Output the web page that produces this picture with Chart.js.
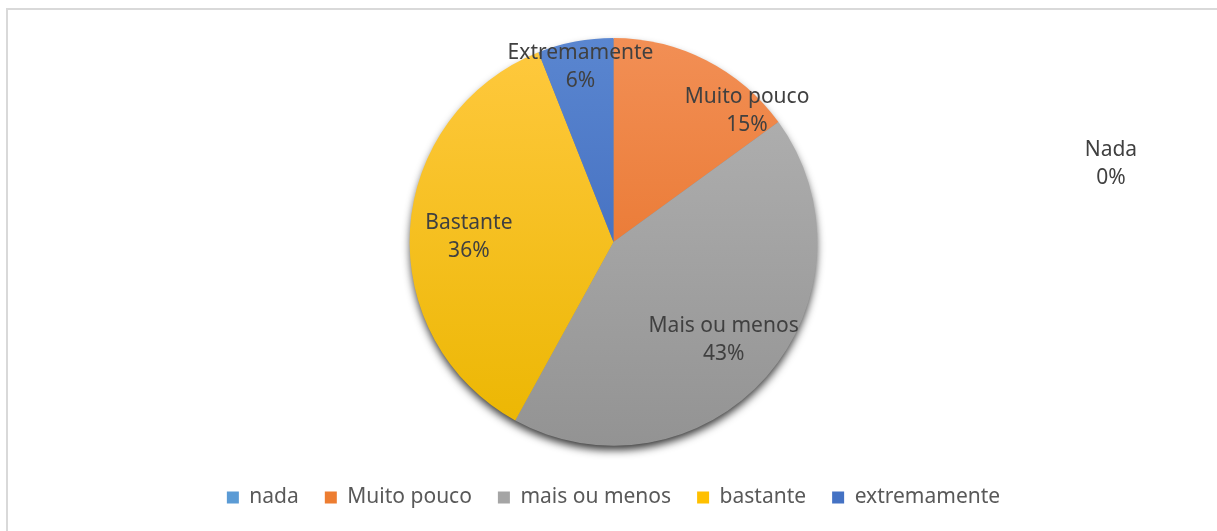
<!DOCTYPE html>
<html>
<head>
<meta charset="utf-8">
<script src="https://cdn.jsdelivr.net/npm/chart.js@4"></script>
<style>
  html, body { margin: 0; padding: 0; background: #fff; overflow: hidden; }
  #frame {
    position: absolute; left: 6px; top: 8px; width: 1220px; height: 540px;
    border-top: 2px solid #d9d9d9; border-left: 2px solid #d9d9d9;
  }
  #wrap { position: absolute; left: 0; top: 0; width: 1217px; height: 531px; }
</style>
</head>
<body>
<div id="frame"></div>
<div id="wrap"><canvas id="pieChart"></canvas></div>
<script>
const categories = ['nada', 'Muito pouco', 'mais ou menos', 'bastante', 'extremamente'];
const sliceNames = ['Nada', 'Muito pouco', 'Mais ou menos', 'Bastante', 'Extremamente'];
const values = [0, 15, 43, 36, 6];

const baseColors = ['#5b9bd5', '#ed7d31', '#a5a5a5', '#ffc000', '#4472c4'];
const lightColors = ['#7db1e0', '#f28f55', '#b4b4b4', '#ffc93f', '#5a86d0'];
const darkColors = ['#4a89c4', '#e46a1c', '#939393', '#ebb600', '#3560b6'];

// label placement: angle shift (deg) from the slice middle and distance as a fraction of the radius
const labelPlacement = [
    { angle: null, at: 81, r: 2.47 },
    { angle: 18.4, r: 0.92 },
    { angle: 0, r: 0.72 },
    { angle: -1.2, r: 0.71 },
    { angle: 0.2, r: 0.88 }
];

const fontFamily = '"Noto Sans", "Open Sans", sans-serif';

const sliceFill = (ctx) => {
    const chart = ctx.chart;
    const area = chart.chartArea;
    if (!area) return baseColors[ctx.dataIndex];
    const g = chart.ctx.createLinearGradient(0, area.top, 0, area.bottom);
    g.addColorStop(0, lightColors[ctx.dataIndex]);
    g.addColorStop(1, darkColors[ctx.dataIndex]);
    return g;
};

const pieShadow = {
    id: 'pieShadow',
    beforeDatasetsDraw(chart) {
        const arc = chart.getDatasetMeta(0).data[0];
        if (!arc) return;
        const c = chart.ctx;
        c.save();
        c.shadowColor = 'rgba(0,0,0,0.8)';
        c.shadowBlur = 9;
        c.shadowOffsetY = 5;
        c.fillStyle = '#888';
        c.beginPath();
        c.arc(arc.x, arc.y, arc.outerRadius - 1, 0, Math.PI * 2);
        c.fill();
        c.restore();
    }
};

const sliceLabels = {
    id: 'sliceLabels',
    afterDatasetsDraw(chart) {
        const c = chart.ctx;
        const meta = chart.getDatasetMeta(0);
        const total = values.reduce((a, b) => a + b, 0);
        c.save();
        c.font = '21px ' + fontFamily;
        c.fillStyle = '#404040';
        c.textAlign = 'center';
        c.textBaseline = 'middle';
        meta.data.forEach((arc, i) => {
            const p = labelPlacement[i];
            let a;
            if (p.angle === null) {
                a = -Math.PI / 2 + p.at * Math.PI / 180;
            } else {
                a = (arc.startAngle + arc.endAngle) / 2 + p.angle * Math.PI / 180;
            }
            const r = arc.outerRadius * p.r;
            const x = arc.x + Math.cos(a) * r;
            const y = arc.y + Math.sin(a) * r + 1;
            const pct = Math.round(values[i] / total * 100) + '%';
            c.fillText(sliceNames[i], x, y - 14);
            c.fillText(pct, x, y + 14);
        });
        c.restore();
    }
};

new Chart(document.getElementById('pieChart'), {
    type: 'pie',
    data: {
        labels: categories,
        datasets: [{
            data: values,
            backgroundColor: sliceFill,
            borderWidth: 0
        }]
    },
    options: {
        responsive: true,
        maintainAspectRatio: false,
        animation: false,
        layout: { padding: { top: 38, left: 10, right: 0, bottom: 13 } },
        plugins: {
            tooltip: { enabled: false },
            legend: {
                position: 'bottom',
                // empty title only adds space above the legend row
                title: { display: true, text: '', font: { size: 1 }, padding: { top: 14, bottom: 0 } },
                labels: {
                    boxWidth: 12,
                    boxHeight: 12,
                    padding: 26,
                    color: '#595959',
                    font: { family: fontFamily, size: 21 },
                    generateLabels: (chart) => categories.map((text, i) => ({
                        text: text,
                        fillStyle: baseColors[i],
                        strokeStyle: baseColors[i],
                        lineWidth: 0,
                        fontColor: '#595959',
                        index: i
                    }))
                }
            }
        }
    },
    plugins: [pieShadow, sliceLabels]
});
</script>
</body>
</html>
